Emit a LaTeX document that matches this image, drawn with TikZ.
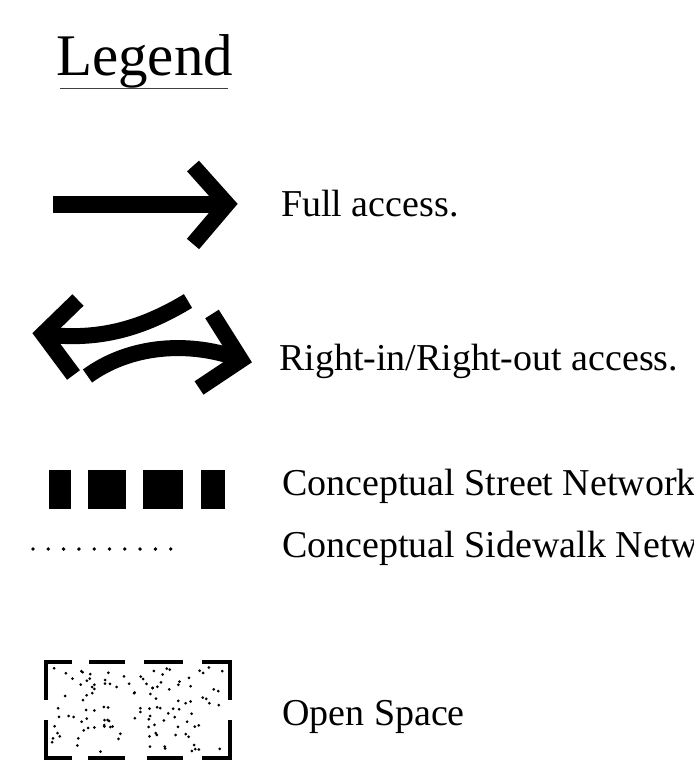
\documentclass[tikz,border=0pt]{standalone}
\usepackage{fontspec}
\setmainfont{Liberation Serif}
\begin{document}
\begin{tikzpicture}[x=1pt,y=-1pt,
  lbl/.style={anchor=base west, inner sep=0pt, font=\fontsize{38}{44}\selectfont},
  fatline/.style={line width=16pt, line join=miter, miter limit=10, line cap=butt},
  boxedge/.style={line width=4.5pt, line join=miter},
  sqr/.style={fill=black},
  sdot/.style={fill=black}]
\useasboundingbox (0,0) rectangle (693,783);

% title
\node[anchor=base west, inner sep=0pt, font=\fontsize{59}{64}\selectfont] (title) at (56,76) {Legend};
\draw[line width=1pt, black!75] (60,89) -- (228,89);

% full access arrow
\draw[line width=17pt] (53,205) -- (222,205);
\draw[fatline] (193,166) -- (227,204) -- (193,244);
\node[lbl] (full) at (281,217) {Full access.};

% right-in / right-out arrows
\draw[fatline] (78,300) -- (43,334) -- (73.5,375);
\draw[fatline] (42,334) .. controls (100,342) and (145,327) .. (188,301);
\draw[fatline] (87.5,376) .. controls (130,345) and (190,340) .. (242,360);
\draw[fatline] (212,314) -- (241,360) -- (199,388);
\node[lbl] (riro) at (279,370) {Right-in/Right-out access.};

% conceptual street network
\fill[sqr] (49,470) rectangle (71,509);
\fill[sqr] (88,470) rectangle (126,509);
\fill[sqr] (143,470) rectangle (183,509);
\fill[sqr] (201,470) rectangle (225,509);
\node[lbl] (street) at (282,495) {Conceptual Street Network};

% conceptual sidewalk network
\foreach \k in {0,...,9} {
  \fill[sdot] ({33+15.3*\k},549) circle (1.9);
}
\node[lbl] (sidewalk) at (282,557) {Conceptual Sidewalk Network};

% open space
\draw[boxedge] (72,662) -- (46,662) -- (46,700);
\draw[boxedge] (89,662) -- (125,662);
\draw[boxedge] (144,662) -- (183,662);
\draw[boxedge] (202,662) -- (230,662) -- (230,700);
\draw[boxedge] (46,720) -- (46,758) -- (72,758);
\draw[boxedge] (88,758) -- (125,758);
\draw[boxedge] (147,758) -- (183,758);
\draw[boxedge] (202,758) -- (230,758) -- (230,720);
\pgfmathsetseed{11}
\foreach \i in {1,...,120} {
  \pgfmathsetmacro\xx{52+172*rnd}
  \pgfmathsetmacro\yy{667+86*rnd}
  \fill[sdot] (\xx,\yy) circle (1.5);
}
\node[lbl] (open) at (282,725) {Open Space};
\end{tikzpicture}
\end{document}
